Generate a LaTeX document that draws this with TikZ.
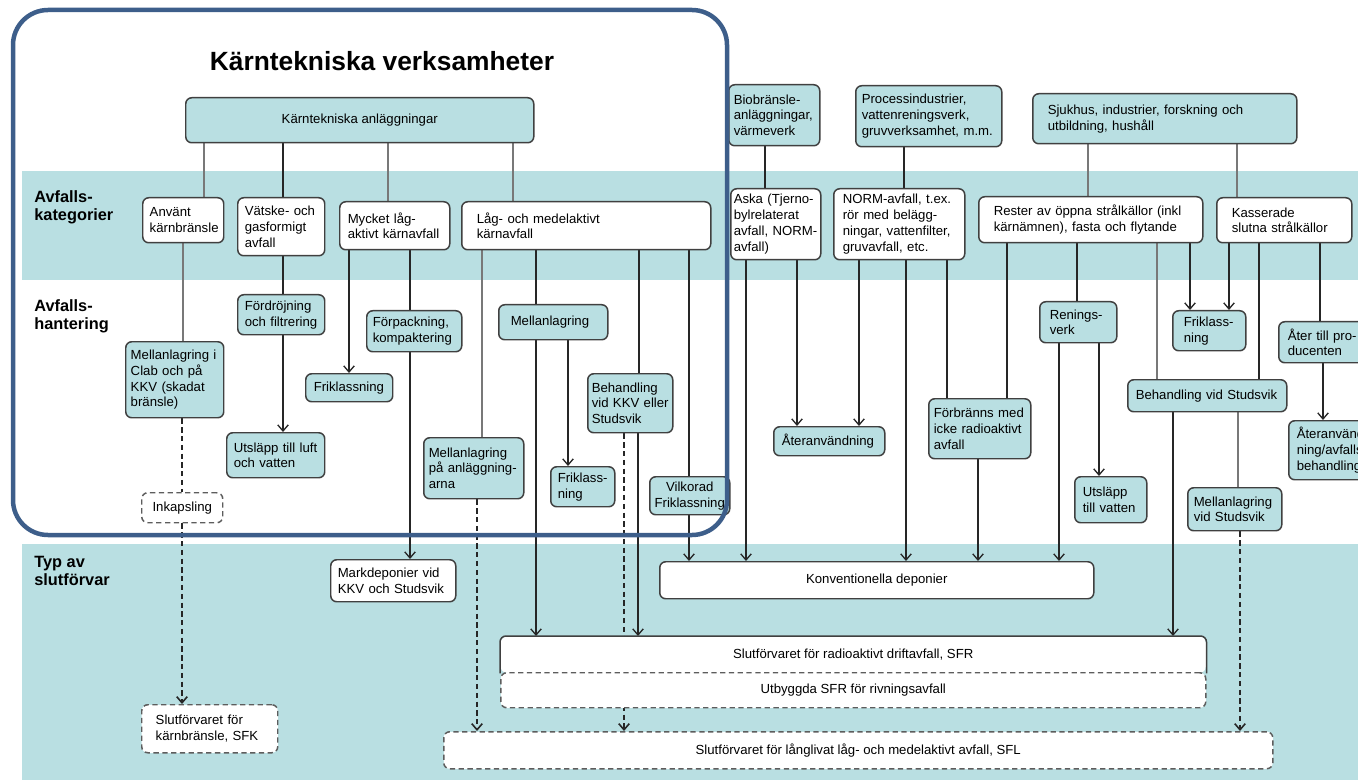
\documentclass[tikz,border=0pt]{standalone}
\usepackage{fontspec}
\setmainfont{Liberation Sans}
\usetikzlibrary{arrows.meta}
\definecolor{band}{RGB}{185,223,226}
\definecolor{boxline}{RGB}{64,64,64}
\definecolor{frameblue}{RGB}{61,94,138}
\definecolor{linegray}{RGB}{120,120,120}
\newlength\pxu
\setlength\pxu{0.02cm}
\hyphenpenalty=10000
\exhyphenpenalty=10000
\tikzset{>={Straight Barb[length=3.5pt,width=6pt]}}
\tikzset{%
    cell/.style={draw=boxline, line width=0.85pt, rounded corners=6\pxu,
        anchor=north west, align=left, inner ysep=1\pxu},
    tealbox/.style={cell, fill=band},
    plainbox/.style={cell, fill=white},
    openbox/.style={cell, fill=white, draw=boxline!85, dash pattern=on 3pt off 2pt},
    lbl/.style={anchor=west, align=left, inner sep=0pt,
        font=\fontsize{9.3}{10.4}\selectfont\bfseries},
    link/.style={draw=black!85, line width=0.75pt},
    greylink/.style={draw=linegray, line width=0.65pt},
    arr/.style={link, ->},
    dlink/.style={draw=black!85, line width=0.9pt, dash pattern=on 3pt off 2pt},
    darr/.style={dlink, ->}
}
\pgfdeclarelayer{bands}
\pgfdeclarelayer{edges}
\pgfsetlayers{bands,edges,main}

\begin{document}
\begin{tikzpicture}[x=0.02cm, y=-0.02cm, font=\fontsize{7.5}{9}\selectfont]
\useasboundingbox (0,0) rectangle (1358,780);
\clip (0,0) rectangle (1358,780);

\begin{pgfonlayer}{bands}
\fill[band] (22,171) rectangle (1358,280);
\fill[band] (22,544) rectangle (1358,780);
\end{pgfonlayer}

\node[font=\fontsize{15}{18}\selectfont\bfseries] (title) at (382,61) {Kärntekniska verksamheter};

\node[lbl] (catlbl) at (34,207) {Avfalls-\\kategorier};
\node[lbl] (handlbl) at (34,316) {Avfalls-\\hantering};
\node[lbl] (typlbl) at (34,571) {Typ av\\slutförvar};

% sources
\node[tealbox, align=center, minimum width=348\pxu, minimum height=45\pxu] (plant) at (185,97) {Kärntekniska anläggningar};
\node[tealbox, inner xsep=5\pxu, text width=81\pxu, minimum height=61\pxu] (bio) at (728,84) {Biobränsle-\\anläggningar,\\värmeverk};
\node[tealbox, inner xsep=6\pxu, text width=134\pxu, minimum height=61\pxu] (proc) at (855,85) {Processindustrier,\\vattenreningsverk,\\gruvverksamhet, m.m.};
\node[tealbox, inner xsep=15\pxu, text width=234\pxu, minimum height=50\pxu] (sjuk) at (1032,93) {Sjukhus, industrier, forskning och\\utbildning, hushåll};

% categories
\node[plainbox, inner xsep=7\pxu, text width=67\pxu, minimum height=45\pxu] (spent) at (142,197) {Använt\\kärnbränsle};
\node[plainbox, inner xsep=7\pxu, text width=73\pxu, minimum height=58\pxu] (liquid) at (237,197) {Vätske- och\\gasformigt\\avfall};
\node[plainbox, inner xsep=8\pxu, text width=94\pxu, minimum height=48\pxu] (vllw) at (339,201) {Mycket låg-\\aktivt kärnavfall};
\node[plainbox, inner xsep=15\pxu, text width=219\pxu, minimum height=48\pxu] (lilw) at (461,201) {Låg- och medelaktivt\\kärnavfall};
\node[plainbox, inner xsep=3\pxu, text width=84\pxu, minimum height=71\pxu] (ash) at (730,188) {Aska (Tjerno-\\bylrelaterat\\avfall, NORM-\\avfall)};
\node[plainbox, inner xsep=9\pxu, text width=113\pxu, minimum height=71\pxu] (norm) at (833,188) {NORM-avfall, t.ex.\\rör med belägg-\\ningar, vattenfilter,\\gruvavfall, etc.};
\node[plainbox, inner xsep=15\pxu, text width=194\pxu, minimum height=46\pxu] (rester) at (978,196) {Rester av öppna strålkällor (inkl\\kärnämnen), fasta och flytande};
\node[plainbox, inner xsep=15\pxu, text width=105\pxu, minimum height=45\pxu] (kass) at (1216,197) {Kasserade\\slutna strålkällor};

% handling
\node[tealbox, inner xsep=7\pxu, text width=73\pxu, minimum height=40\pxu] (delay) at (237,294) {Fördröjning\\och filtrering};
\node[tealbox, inner xsep=6\pxu, text width=83\pxu, minimum height=41\pxu] (pack) at (366,310) {Förpackning,\\kompaktering};
\node[tealbox, inner xsep=5\pxu, text width=88\pxu, minimum height=76\pxu] (clab) at (125,341) {Mellanlagring i\\Clab och på\\KKV (skadat\\bränsle)};
\node[tealbox, inner xsep=8\pxu, text width=71\pxu, minimum height=28\pxu] (frk1) at (305,373) {Friklassning};
\node[tealbox, inner xsep=7\pxu, text width=84\pxu, minimum height=45\pxu] (rel1) at (226,432) {Utsläpp till luft\\och vatten};
\node[openbox, align=center, minimum width=81\pxu, minimum height=30\pxu] (encap) at (141,492) {Inkapsling};
\node[tealbox, inner xsep=12\pxu, text width=85\pxu, minimum height=35\pxu] (store) at (498,304) {Mellanlagring};
\node[tealbox, inner xsep=4\pxu, text width=77\pxu, minimum height=59\pxu] (trkkv) at (587,373) {Behandling\\vid KKV eller\\Studsvik};
\node[tealbox, inner xsep=5\pxu, text width=90\pxu, minimum height=61\pxu] (onsite) at (423,437) {Mellanlagring\\på anläggning-\\arna};
\node[tealbox, inner xsep=7\pxu, text width=50\pxu, minimum height=40\pxu] (frk2) at (550,466) {Friklass-\\ning};
\node[tealbox, align=center, inner xsep=1\pxu, text width=78\pxu, minimum height=38\pxu] (cond) at (649,476) {Vilkorad\\Friklassning};
\node[tealbox, inner xsep=8\pxu, text width=95\pxu, minimum height=29\pxu] (reuse) at (773,426) {Återanvändning};
\node[tealbox, inner xsep=5\pxu, text width=92\pxu, minimum height=60\pxu] (burn) at (928,398) {Förbränns med\\icke radioaktivt\\avfall};
\node[tealbox, inner xsep=10\pxu, text width=57\pxu, minimum height=41\pxu] (clean) at (1039,301) {Renings-\\verk};
\node[tealbox, inner xsep=8\pxu, text width=56\pxu, minimum height=46\pxu] (rel2) at (1074,476) {Utsläpp\\till vatten};
\node[tealbox, inner xsep=11\pxu, text width=51\pxu, minimum height=40\pxu] (frk3) at (1172,310) {Friklass-\\ning};
\node[tealbox, inner xsep=8\pxu, text width=143\pxu, minimum height=32\pxu] (trstud) at (1127,379) {Behandling vid Studsvik};
\node[tealbox, inner xsep=9\pxu, text width=72\pxu, minimum height=41\pxu] (back) at (1278,321) {Åter till pro-\\ducenten};
\node[tealbox, inner xsep=8\pxu, text width=74\pxu, minimum height=59\pxu] (reuse2) at (1288,420) {Återanvänd-\\ning/avfalls-\\behandling};
\node[tealbox, inner xsep=6\pxu, text width=82\pxu, minimum height=43\pxu] (storstud) at (1187,487) {Mellanlagring\\vid Studsvik};

% repositories
\node[plainbox, inner xsep=7\pxu, text width=111\pxu, minimum height=42\pxu] (mark) at (330,559) {Markdeponier vid\\KKV och Studsvik};
\node[plainbox, align=center, minimum width=434\pxu, minimum height=37\pxu] (conv) at (659,561) {Konventionella deponier};
\node[plainbox, draw=none, align=center, minimum width=705\pxu, minimum height=36\pxu] (sfr) at (500,636) {Slutförvaret för radioaktivt driftavfall, SFR};
\node[openbox, align=center, minimum width=705\pxu, minimum height=35\pxu] (ext) at (500,672) {Utbyggda SFR för rivningsavfall};
\draw[boxline, line width=0.85pt, rounded corners=6\pxu] (sfr.south west) -- (sfr.north west) -- (sfr.north east) -- (sfr.south east);
\node[openbox, inner xsep=14\pxu, text width=108\pxu, minimum height=48\pxu] (sfk) at (141,704) {Slutförvaret för\\kärnbränsle, SFK};
\node[openbox, align=center, minimum width=829\pxu, minimum height=37\pxu] (sfl) at (443,731) {Slutförvaret för långlivat låg- och medelaktivt avfall, SFL};

\begin{pgfonlayer}{edges}
% sources to categories
\draw[greylink] (plant.south -| 204,0) -- (spent.north -| 204,0);
\draw[link] (plant.south -| 283,0) -- (liquid.north -| 283,0);
\draw[greylink] (plant.south -| 388,0) -- (vllw.north -| 388,0);
\draw[greylink] (plant.south -| 513,0) -- (lilw.north -| 513,0);
\draw[link] (bio.south -| 765,0) -- (ash.north -| 765,0);
\draw[link] (proc.south -| 904,0) -- (norm.north -| 904,0);
\draw[greylink] (sjuk.south -| 1088,0) -- (rester.north -| 1088,0);
\draw[greylink] (sjuk.south -| 1237,0) -- (kass.north -| 1237,0);

% categories to handling
\draw[greylink] (spent.south -| 183,0) -- (clab.north -| 183,0);
\draw[link] (liquid.south -| 283,0) -- (delay.north -| 283,0);
\draw[arr] (delay.south -| 283,0) -- (rel1.north -| 283,0);
\draw[arr] (vllw.south -| 349,0) -- (frk1.north -| 349,0);
\draw[link] (vllw.south -| 410,0) -- (pack.north -| 410,0);
\draw[arr] (pack.south -| 410,0) -- (mark.north -| 410,0);
\draw[greylink] (lilw.south -| 482,0) -- (onsite.north -| 482,0);
\draw[link] (lilw.south -| 536,0) -- (store.north -| 536,0);
\draw[arr] (store.south -| 536,0) -- (sfr.north -| 536,0);
\draw[arr] (store.south -| 568,0) -- (frk2.north -| 568,0);
\draw[link] (lilw.south -| 639,0) -- (trkkv.north -| 639,0);
\draw[arr] (trkkv.south -| 638,0) -- (sfr.north -| 638,0);
\draw[link] (lilw.south -| 689,0) -- (cond.north -| 689,0);
\draw[arr] (cond.south -| 689,0) -- (conv.north -| 689,0);
\draw[arr] (ash.south -| 746,0) -- (conv.north -| 746,0);
\draw[arr] (ash.south -| 797,0) -- (reuse.north -| 797,0);
\draw[arr] (norm.south -| 859,0) -- (reuse.north -| 859,0);
\draw[arr] (norm.south -| 906,0) -- (conv.north -| 906,0);
\draw[link] (norm.south -| 947,0) -- (burn.north -| 947,0);
\draw[arr] (burn.south -| 978,0) -- (conv.north -| 978,0);
\draw[link] (rester.south -| 1007,0) -- (burn.north -| 1007,0);
\draw[link] (rester.south -| 1077,0) -- (clean.north -| 1077,0);
\draw[arr] (clean.south -| 1059,0) -- (conv.north -| 1059,0);
\draw[arr] (clean.south -| 1099,0) -- (rel2.north -| 1099,0);
\draw[greylink] (rester.south -| 1157,0) -- (trstud.north -| 1157,0);
\draw[arr] (rester.south -| 1190,0) -- (frk3.north -| 1190,0);
\draw[arr] (kass.south -| 1229,0) -- (frk3.north -| 1229,0);
\draw[link] (kass.south -| 1259,0) -- (trstud.north -| 1259,0);
\draw[link] (kass.south -| 1320,0) -- (back.north -| 1320,0);
\draw[arr] (back.south -| 1323,0) -- (reuse2.north -| 1323,0);
\draw[arr] (trstud.south -| 1173,0) -- (sfr.north -| 1173,0);
\draw[greylink] (trstud.south -| 1238,0) -- (storstud.north -| 1238,0);

% dashed routes
\draw[dlink] (clab.south -| 182,0) -- (encap.north -| 182,0);
\draw[darr] (encap.south -| 182,0) -- (sfk.north -| 182,0);
\draw[darr] (onsite.south -| 477,0) -- (sfl.north -| 477,0);
\draw[darr] (trkkv.south -| 624,0) -- (sfl.north -| 624,0);
\draw[darr] (storstud.south -| 1240,0) -- (sfl.north -| 1240,0);
\end{pgfonlayer}

\draw[frameblue, line width=4.5\pxu, rounded corners=35\pxu] (13,10) rectangle (727,535);
\end{tikzpicture}
\end{document}
